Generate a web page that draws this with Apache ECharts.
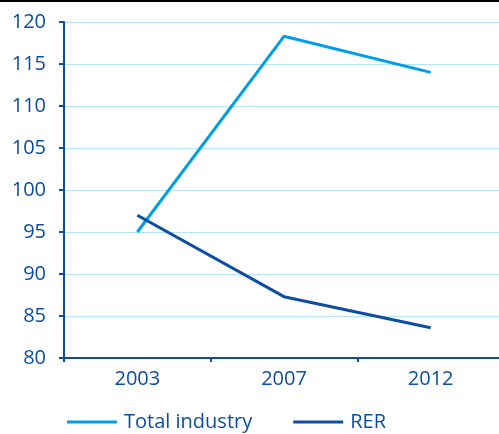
<!DOCTYPE html>
<html><head><meta charset="utf-8">
<script src="https://cdn.jsdelivr.net/npm/echarts@6/dist/echarts.min.js"></script>
<style>html,body{margin:0;padding:0;background:#fff}#c{width:499px;height:434px}</style>
</head><body><div id="c"></div>
<script>
const categories = ['2003', '2007', '2012'];
const totalIndustry = [95.0, 118.3, 114.0];
const rer = [97.0, 87.3, 83.6];
const yTicks = { min: 80, max: 120, interval: 5 };

const dark = '#0b4ea2', light = '#009fe3', grid = '#b8e3f6';
const font = 'Open Sans';
const chart = echarts.init(document.getElementById('c'), null, { renderer: 'canvas' });
chart.setOption({
  animation: false,
  graphic: [{ type: 'rect', shape: { x: 0, y: 0, width: 499, height: 2 }, style: { fill: '#000' } }],
  grid: { left: 64, width: 440, top: 22, bottom: 76, containLabel: false, outerBoundsMode: 'none' },
  xAxis: {
    type: 'category', data: categories, boundaryGap: true,
    axisLine: { lineStyle: { color: dark, width: 2 } },
    axisTick: { show: true, length: 4, lineStyle: { color: dark, width: 2 } },
    axisLabel: { color: dark, fontSize: 20, fontFamily: font, margin: 11 },
    splitLine: { show: false }
  },
  yAxis: {
    type: 'value', min: yTicks.min, max: yTicks.max, interval: yTicks.interval,
    axisLine: { show: true, lineStyle: { color: dark, width: 2 } },
    axisTick: { show: true, length: 5, lineStyle: { color: dark, width: 2 } },
    axisLabel: { color: dark, fontSize: 20, fontFamily: font, margin: 18 },
    splitLine: { show: true, lineStyle: { color: grid, width: 1 } }
  },
  legend: {
    bottom: -3, left: 62, itemGap: 41, itemWidth: 50, itemHeight: 3,
    textStyle: { color: dark, fontSize: 20, fontFamily: font, padding: [0, 0, 0, 2] },
    data: [
      { name: 'Total industry', icon: 'rect', itemStyle: { color: light } },
      { name: 'RER', icon: 'rect', itemStyle: { color: dark } }
    ]
  },
  series: [
    { name: 'Total industry', type: 'line', data: totalIndustry, symbol: 'none',
      lineStyle: { color: light, width: 3 }, itemStyle: { color: light } },
    { name: 'RER', type: 'line', data: rer, symbol: 'none',
      lineStyle: { color: dark, width: 3 }, itemStyle: { color: dark } }
  ]
});
</script></body></html>
